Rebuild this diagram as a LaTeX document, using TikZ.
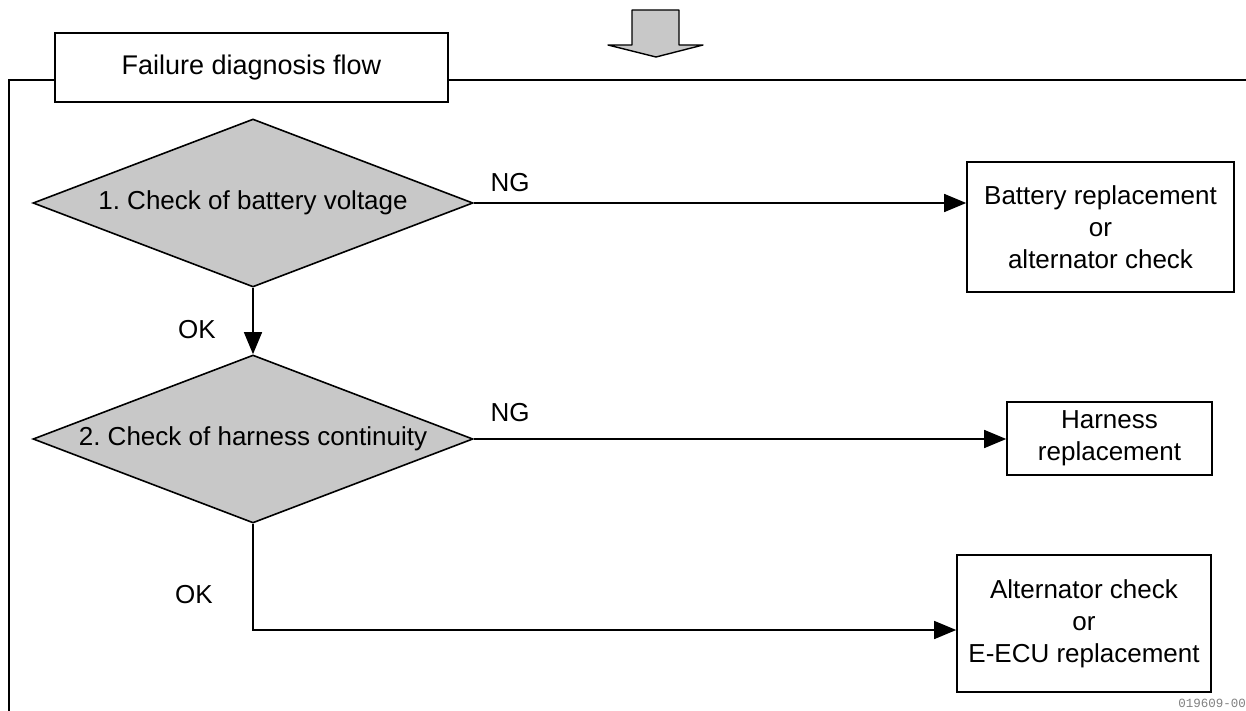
\documentclass[tikz,border=0pt]{standalone}
\usepackage{fontspec}
\setmainfont{Liberation Sans}
\newfontfamily\monofnt{Liberation Mono}
\usetikzlibrary{shapes.geometric,arrows.meta}
\definecolor{dither}{RGB}{200,200,200}
\frenchspacing
\tikzset{
  decision/.style={diamond, draw=black, line width=1.6pt, fill=dither, inner sep=0pt,
    shape aspect=2.62, minimum width=440pt, minimum height=168pt, font=\fontsize{26}{30}\selectfont},
  resultbox/.style={rectangle, draw=black, line width=1.6pt, fill=white, align=center,
    inner sep=0pt, font=\fontsize{26}{32}\selectfont},
  conn/.style={line width=1.4pt, -{Triangle[length=22pt,width=18pt]}},
  plainline/.style={line width=1.4pt},
  lbl/.style={font=\fontsize{26}{30}\selectfont, inner sep=0pt}
}
\begin{document}
\begin{tikzpicture}[x=1pt,y=-1pt]
\useasboundingbox (0,0) rectangle (1246,711);
% top arrow
\filldraw[fill=dither, draw=black, line width=1.4pt, line join=round]
  (632,10) -- (679,10) -- (679,45) -- (703,45) -- (656,57) -- (608,45) -- (632,45) -- cycle;
% title and frame
\node[resultbox, minimum width=393pt, minimum height=69pt, font=\fontsize{27}{32}\selectfont] (title) at (251.5,67.5) {Failure diagnosis flow};
\coordinate (fl) at (9,711);
\coordinate (fr) at (1246,80);
\draw[plainline] (title.west |- 0,80) -- (9,80) -- (fl);
\draw[plainline] (title.east |- 0,80) -- (fr);
% decisions
\node[decision] (d1) at (253,203) {1. Check of battery voltage};
\node[decision] (d2) at (253,439) {2. Check of harness continuity};
% results
\node[resultbox, minimum width=267pt, minimum height=130pt] (b1) at (1100.5,227) {Battery replacement\\or\\alternator check};
\node[resultbox, minimum width=205pt, minimum height=73pt] (b2) at (1109.5,438.5) {Harness\\replacement};
\node[resultbox, minimum width=254pt, minimum height=137pt] (b3) at (1084,623.5) {Alternator check\\or\\E-ECU replacement};
% connectors
\draw[conn] (d1.east) -- (d1.east -| b1.west);
\draw[conn] (d2.east) -- (d2.east -| b2.west);
\draw[conn] (d1.south) -- (d2.north);
\coordinate (corner) at (253,630);
\draw[conn] (d2.south) -- (corner) -- (corner -| b3.west);
% labels
\node[lbl] (ng1) at (510,183) {NG};
\node[lbl] (ok1) at (197,330) {OK};
\node[lbl] (ng2) at (510,413) {NG};
\node[lbl] (ok2) at (194,595) {OK};
\node[font=\monofnt\fontsize{12.5}{14}\selectfont, text=gray, anchor=east, inner sep=0pt] (code) at (1246,703) {019609-00};
\end{tikzpicture}
\end{document}
